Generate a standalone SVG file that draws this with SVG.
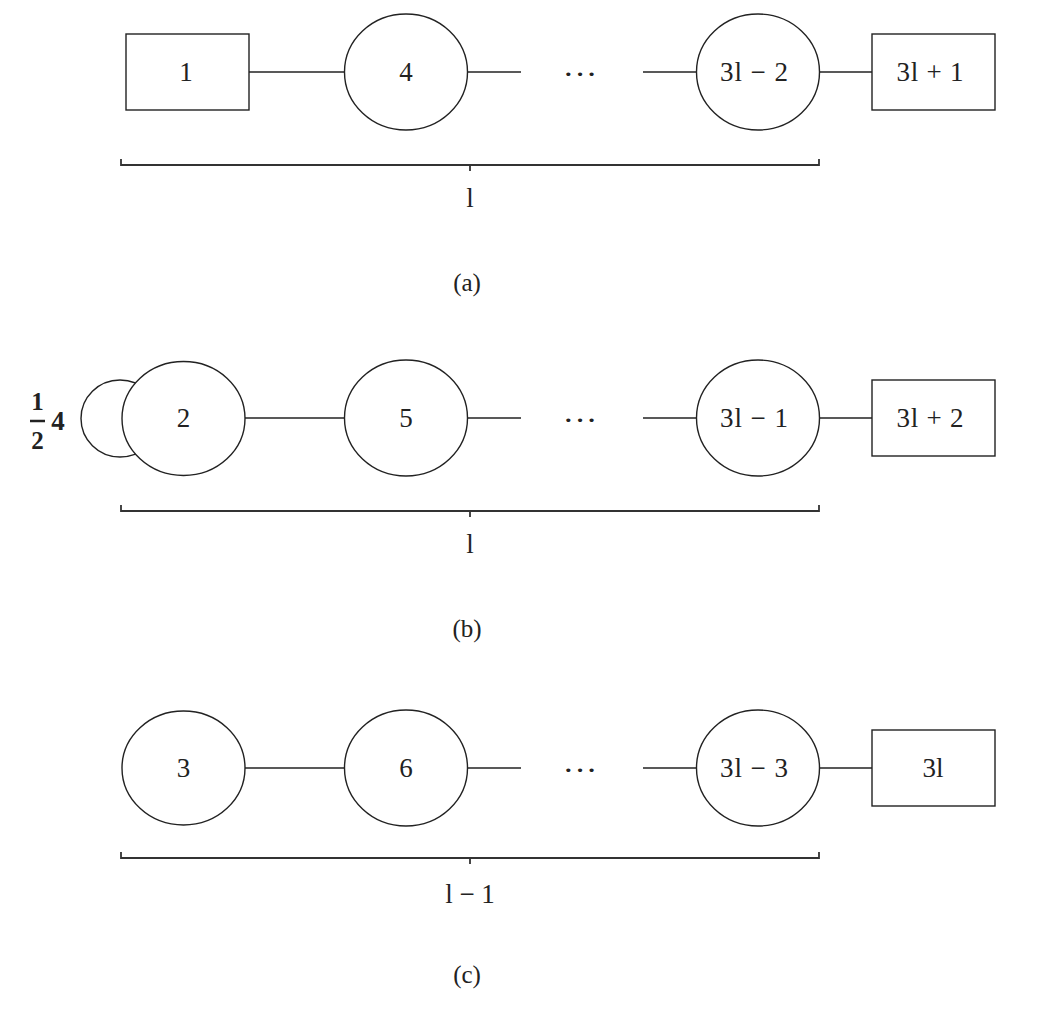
<svg xmlns="http://www.w3.org/2000/svg" width="1042" height="1021" viewBox="0 0 1042 1021">
<style>
.n{fill:#fff;stroke:#222;stroke-width:1.4}
.e{stroke:#222;stroke-width:1.4;fill:none}
.b{stroke:#333;stroke-width:1.8;fill:none}
text{font-family:"Liberation Serif","DejaVu Serif",serif;font-size:27px;fill:#222;text-anchor:middle;dominant-baseline:central}
.cap{font-size:25px}
.fr{font-weight:bold;font-size:25px}
.f4{font-weight:bold;font-size:27px}
.d{font-size:30px}
</style>
<rect width="1042" height="1021" fill="#fff"/>
<g id="connectors">
<line class="e" x1="249" y1="72" x2="345" y2="72"/>
<line class="e" x1="467" y1="72" x2="521" y2="72"/>
<line class="e" x1="643" y1="72" x2="697" y2="72"/>
<line class="e" x1="819" y1="72" x2="872" y2="72"/>
<line class="e" x1="245" y1="418" x2="345" y2="418"/>
<line class="e" x1="467" y1="418" x2="521" y2="418"/>
<line class="e" x1="643" y1="418" x2="697" y2="418"/>
<line class="e" x1="819" y1="418" x2="872" y2="418"/>
<line class="e" x1="245" y1="768" x2="345" y2="768"/>
<line class="e" x1="467" y1="768" x2="521" y2="768"/>
<line class="e" x1="643" y1="768" x2="697" y2="768"/>
<line class="e" x1="819" y1="768" x2="872" y2="768"/>
</g>
<g id="row-a">
<g id="a1"><rect class="n" x="126" y="34" width="123" height="76"/><text x="186" y="72">1</text></g>
<g id="a4"><ellipse class="n" cx="406" cy="72" rx="61.5" ry="58"/><text x="406" y="72">4</text></g>
<g id="adots"><text class="d" x="580" y="73" textLength="35" lengthAdjust="spacingAndGlyphs">···</text></g>
<g id="a3l-2"><ellipse class="n" cx="758" cy="72" rx="61.5" ry="58"/><text x="754" y="72" textLength="68" lengthAdjust="spacing">3l − 2</text></g>
<g id="a3l+1"><rect class="n" x="872" y="34" width="123" height="76"/><text x="930" y="72" textLength="67" lengthAdjust="spacing">3l + 1</text></g>
<path class="b" d="M121,159 V165 H819 V159 M470,165 V171"/>
<text x="470" y="198">l</text>
<text class="cap" x="467" y="282">(a)</text>
</g>
<g id="row-b">
<g id="bloop"><ellipse class="n" cx="120" cy="418.5" rx="39" ry="38.5"/></g>
<g id="b2"><ellipse class="n" cx="183.5" cy="418.5" rx="61.5" ry="57"/><text x="183.5" y="418">2</text></g>
<g id="bfrac"><text class="fr" x="37.5" y="401">1</text><line x1="30" y1="421" x2="45" y2="421" stroke="#222" stroke-width="2.5"/><text class="fr" x="37.5" y="440">2</text><text class="f4" x="58" y="421">4</text></g>
<g id="b5"><ellipse class="n" cx="406" cy="418" rx="61.5" ry="58"/><text x="406" y="418">5</text></g>
<g id="bdots"><text class="d" x="580" y="419" textLength="35" lengthAdjust="spacingAndGlyphs">···</text></g>
<g id="b3l-1"><ellipse class="n" cx="758" cy="418" rx="61.5" ry="58"/><text x="754" y="418" textLength="68" lengthAdjust="spacing">3l − 1</text></g>
<g id="b3l+2"><rect class="n" x="872" y="380" width="123" height="76"/><text x="930" y="418" textLength="67" lengthAdjust="spacing">3l + 2</text></g>
<path class="b" d="M121,505 V511 H819 V505 M470,511 V517"/>
<text x="470" y="544">l</text>
<text class="cap" x="467" y="628">(b)</text>
</g>
<g id="row-c">
<g id="c3"><ellipse class="n" cx="183.5" cy="768" rx="61.5" ry="57"/><text x="183.5" y="768">3</text></g>
<g id="c6"><ellipse class="n" cx="406" cy="768" rx="61.5" ry="58"/><text x="406" y="768">6</text></g>
<g id="cdots"><text class="d" x="580" y="769" textLength="35" lengthAdjust="spacingAndGlyphs">···</text></g>
<g id="c3l-3"><ellipse class="n" cx="758" cy="768" rx="61.5" ry="58"/><text x="754" y="768" textLength="68" lengthAdjust="spacing">3l − 3</text></g>
<g id="c3l"><rect class="n" x="872" y="730" width="123" height="76"/><text x="933" y="768">3l</text></g>
<path class="b" d="M121,852 V858 H819 V852 M470,858 V864"/>
<text x="470" y="894">l − 1</text>
<text class="cap" x="467" y="974">(c)</text>
</g>
</svg>
